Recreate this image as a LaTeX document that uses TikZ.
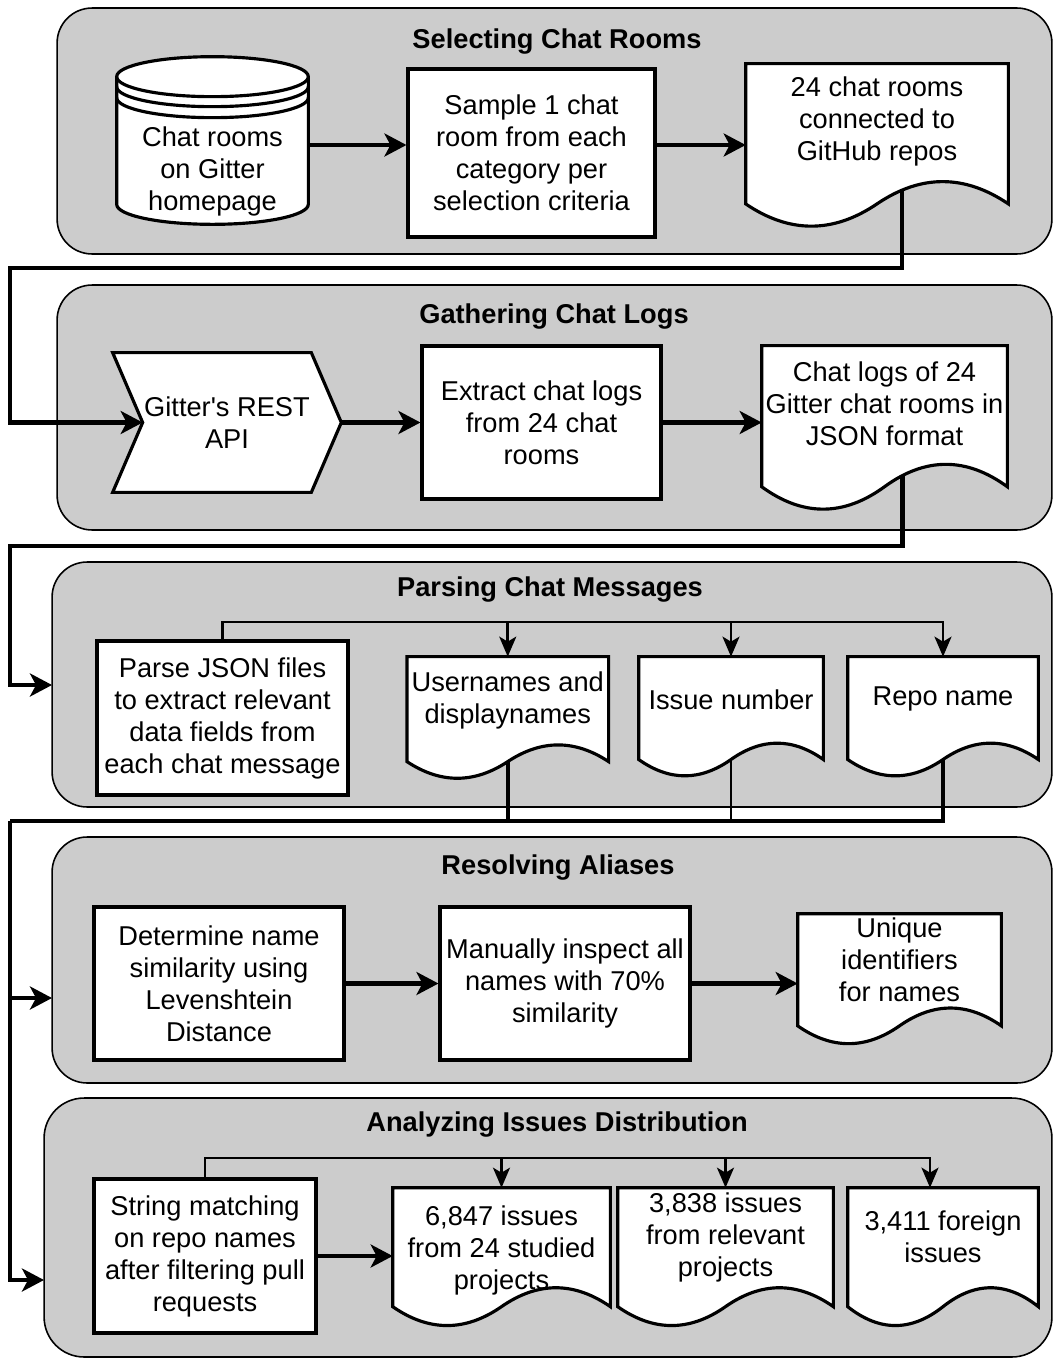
\documentclass[tikz,border=0pt]{standalone}
\usepackage{fontspec}
\newfontfamily\diagfont{Liberation Sans}
\usetikzlibrary{arrows.meta,calc}

\definecolor{panelgray}{HTML}{CCCCCC}

\pgfdeclarelayer{panels}
\pgfdeclarelayer{wires}
\pgfdeclarelayer{shapes}
\pgfsetlayers{panels,wires,shapes,main}

\tikzset{
  txt/.style={font=\diagfont\fontsize{15.5}{18.2}\selectfont, align=center},
  title/.style={font=\diagfont\fontsize{15.5}{18.2}\selectfont\bfseries},
  panel/.style={draw=black, line width=0.9pt, fill=panelgray, rounded corners=0.7cm, minimum width=19.9cm, minimum height=4.9cm},
  process/.style={txt, draw, fill=white, line width=1.8pt, inner sep=2pt},
  docbox/.style={txt, inner sep=0pt},
  outline/.style={draw, fill=white, line width=1.8pt},
  bigtip/.style={-{Stealth[length=0.44cm,width=0.46cm,inset=0.12cm]}},
  tip/.style={-{Stealth[length=0.4cm,width=0.34cm,inset=0.1cm]}},
  flow/.style={line width=2.3pt, bigtip},
  link/.style={line width=2.5pt},
  branch/.style={line width=1.5pt},
}

\newcommand\drawdoc[2]{%
  \begin{pgfonlayer}{shapes}
    \path[outline] let \p1=(#1.north west), \p2=(#1.north east),
      \n1={\x2-\x1}, \n2={#2}, \n3={\y1-#2} in
      (\p1) -- (\p2) -- (\x2,\n3+0.15*\n2)
      .. controls (\x2-\n1/6,\n3+0.33*\n2) and (\x2-\n1/3,\n3+0.33*\n2) .. (\x1+\n1/2,\n3+0.15*\n2)
      .. controls (\x1+\n1/3,\n3-0.03*\n2) and (\x1+\n1/6,\n3-0.03*\n2) .. (\x1,\n3+0.15*\n2) -- cycle;
  \end{pgfonlayer}}

\newcommand\drawstore[1]{%
  \begin{pgfonlayer}{shapes}
    \path[outline] let \p1=(#1.north west), \p2=(#1.south east), \n1={(\x2-\x1)/2} in
      (\x1,\y1+0.82cm) -- (\x1,\y2+0.4cm)
      arc[start angle=180,end angle=360,x radius=\n1,y radius=0.4cm]
      -- (\x2,\y1+0.82cm)
      arc[start angle=0,end angle=180,x radius=\n1,y radius=0.4cm] -- cycle;
    \draw[line width=1.8pt] let \p1=(#1.north west), \p2=(#1.south east), \n1={(\x2-\x1)/2} in
      (\x1,\y1+0.82cm) arc[start angle=180,end angle=360,x radius=\n1,y radius=0.4cm]
      (\x1,\y1+0.62cm) arc[start angle=180,end angle=360,x radius=\n1,y radius=0.4cm]
      (\x1,\y1+0.40cm) arc[start angle=180,end angle=360,x radius=\n1,y radius=0.4cm];
  \end{pgfonlayer}}

\newcommand\drawstep[2]{%
  \begin{pgfonlayer}{shapes}
    \path[outline] let \p1=(#1.north west), \p2=(#1.south east), \p3=(#1.center), \n1={#2} in
      (\x1-\n1,\y1) -- (\x2,\y1) -- (\x2+\n1,\y3) -- (\x2,\y2) -- (\x1-\n1,\y2) -- (\x1,\y3) -- cycle;
  \end{pgfonlayer}}

\begin{document}
\begin{tikzpicture}[x=0.02cm, y=-0.02cm]
    \useasboundingbox (0,0) rectangle (1053,1359);

    \begin{pgfonlayer}{panels}
        \node[panel, minimum height=4.92cm] (select) at (554.5,131) {};
        \node[panel] (gather) at (554.5,407.5) {};
        \node[panel, minimum width=20cm] (parsing) at (552,684.5) {};
        \node[panel, minimum width=20cm, minimum height=4.92cm] (resolve) at (552,960) {};
        \node[panel, minimum width=20.16cm, minimum height=5.18cm, rounded corners=0.8cm] (analyze) at (548,1227.5) {};
    \end{pgfonlayer}

    \node[title] (select-title) at (557,42) {Selecting Chat Rooms};
    \node[title] (gather-title) at (554,317) {Gathering Chat Logs};
    \node[title] (parsing-title) at (550,590) {Parsing Chat Messages};
    \node[title] (resolve-title) at (558,868) {Resolving Aliases};
    \node[title] (analyze-title) at (557,1125) {Analyzing Issues Distribution};

    \node[docbox, minimum width=3.82cm, minimum height=2.12cm] (homepage) at (212.5,171) {Chat rooms\\on Gitter\\homepage};
    \drawstore{homepage}
    \node[process, minimum width=4.94cm, minimum height=3.36cm] (sample) at (531.5,153) {Sample 1 chat\\room from each\\category per\\selection criteria};
    \node[docbox, minimum width=5.24cm, minimum height=2.31cm] (rooms) at (877,121.75) {24 chat rooms\\connected to\\GitHub repos};
    \drawdoc{rooms}{3.3cm}

    \node[docbox, minimum width=3.36cm, minimum height=2.78cm] (api) at (227,422.5) {Gitter's REST\\API};
    \drawstep{api}{0.6cm}
    \node[process, minimum width=4.78cm, minimum height=3.06cm] (extract) at (541.5,422.5) {Extract chat logs\\from 24 chat\\rooms};
    \node[docbox, minimum width=4.9cm, minimum height=2.324cm] (logs) at (884.5,404.1) {Chat logs of 24\\Gitter chat rooms in\\JSON format};
    \drawdoc{logs}{3.32cm}

    \node[process, minimum width=5.02cm, minimum height=3.08cm] (parse) at (222.5,718) {Parse JSON files\\to extract relevant\\data fields from\\each chat message};
    \node[docbox, minimum width=4.02cm, minimum height=1.729cm] (users) at (507.75,700.2) {Usernames and\\displaynames};
    \drawdoc{users}{2.47cm}
    \node[docbox, minimum width=3.68cm, minimum height=1.694cm] (issue) at (731,699.35) {Issue number};
    \drawdoc{issue}{2.42cm}
    \node[docbox, minimum width=3.8cm, minimum height=1.694cm] (repo) at (943,699.35) {Repo name};
    \drawdoc{repo}{2.42cm}

    \node[process, minimum width=5cm, minimum height=3.06cm] (levenshtein) at (219,983.5) {Determine name\\similarity using\\Levenshtein\\Distance};
    \node[process, minimum width=5cm, minimum height=3.06cm] (inspect) at (565,983.5) {Manually inspect all\\names with 70\%\\similarity};
    \node[docbox, minimum width=4.06cm, minimum height=1.848cm] (unique) at (899.5,960.2) {Unique\\identifiers\\for names};
    \drawdoc{unique}{2.64cm}

    \node[process, minimum width=4.44cm, minimum height=3.08cm] (matching) at (205,1256) {String matching\\on repo names\\after filtering pull\\requests};
    \node[docbox, minimum width=4.34cm, minimum height=2.48cm] (studied) at (501.5,1250) {6,847 issues\\from 24 studied\\projects};
    \drawdoc{studied}{2.8cm}
    \node[docbox, minimum width=4.3cm, minimum height=1.96cm] (relevant) at (725.5,1237) {3,838 issues\\from relevant\\projects};
    \drawdoc{relevant}{2.8cm}
    \node[docbox, minimum width=3.8cm, minimum height=1.96cm] (foreign) at (943,1237) {3,411 foreign\\issues};
    \drawdoc{foreign}{2.8cm}

    \coordinate (row1) at (0,145);
    \coordinate (bend1) at (10,268);
    \coordinate (bend2) at (10,546);
    \coordinate (in3) at (52,685);
    \coordinate (fan3) at (0,622);
    \coordinate (bend3) at (10,821);
    \coordinate (in4) at (52,998);
    \coordinate (in5) at (44,1280);
    \coordinate (fan5) at (0,1158);
    \coordinate (foreign-in) at ([xshift=-0.26cm]foreign.north);

    \draw[flow] (homepage.east |- row1) -- (sample.west |- row1);
    \draw[flow] (sample.east |- row1) -- (rooms.west |- row1);
    \draw[flow] ([xshift=0.6cm]api.east) -- (extract.west);
    \draw[flow] (extract.east) -- (extract.east -| logs.west);
    \draw[flow] (levenshtein.east) -- (inspect.west);
    \draw[flow] (inspect.east) -- (inspect.east -| unique.west);
    \draw[flow] (matching.east) -- (matching.east -| studied.west);

    \draw[branch, tip] (parse.north) |- (repo.north |- fan3) -- (repo.north);
    \draw[branch, tip] (users.north |- fan3) -- (users.north);
    \draw[branch, tip] (issue.north |- fan3) -- (issue.north);
    \draw[branch, tip] (matching.north) |- (foreign-in |- fan5) -- (foreign-in);
    \draw[branch, tip] (studied.north |- fan5) -- (studied.north);
    \draw[branch, tip] (relevant.north |- fan5) -- (relevant.north);

    \begin{pgfonlayer}{wires}
        \draw[link, bigtip] ([xshift=0.5cm]rooms.center) |- (bend1) |- (api.west);
        \draw[link, bigtip] ([xshift=0.36cm]logs.center) |- (bend2) |- (in3);
        \draw[link] (users.center) |- (bend3);
        \draw[line width=1.2pt] (issue.center) |- (users.center |- bend3);
        \draw[line width=2pt] (repo.center) |- (users.center |- bend3);
        \draw[link, bigtip] (bend3) |- (in4);
        \draw[link, bigtip] (bend3) |- (in5);
    \end{pgfonlayer}
\end{tikzpicture}
\end{document}
